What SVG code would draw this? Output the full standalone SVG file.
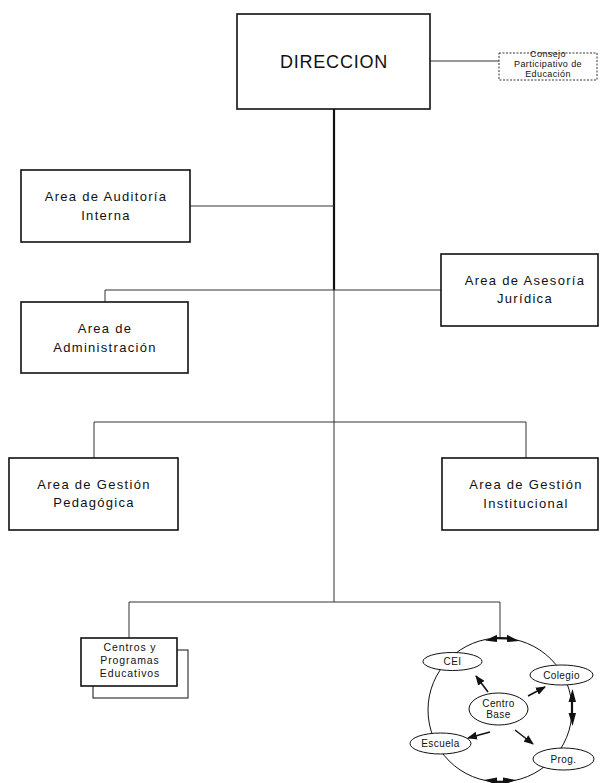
<svg xmlns="http://www.w3.org/2000/svg" width="600" height="783" viewBox="0 0 600 783">
<style>
.box{fill:#fff;stroke:#111;stroke-width:1.6}
.t{font-family:"Liberation Sans",Arial,sans-serif;font-size:13px;letter-spacing:1.3px;text-anchor:middle;fill:#111}
.s{font-family:"Liberation Sans",Arial,sans-serif;font-size:10px;letter-spacing:0.4px;text-anchor:middle;fill:#111}
.c{fill:none;stroke:#333;stroke-width:1}
.el{fill:#fff;stroke:#111;stroke-width:1}
.ar{stroke:#111;stroke-width:1.5;fill:none}
.hd{fill:#111;stroke:none}
</style>
<defs>
<marker id="ah" markerWidth="10" markerHeight="8" refX="9" refY="4" orient="auto" markerUnits="userSpaceOnUse">
<path d="M0,0 L10,4 L0,8 Z" fill="#111"/>
</marker>
</defs>
<g id="connectors">
<line class="c" x1="430" y1="61" x2="499" y2="61"/>
<line x1="334" y1="109" x2="334" y2="290" stroke="#111" stroke-width="2.2"/>
<line class="c" x1="334" y1="290" x2="334" y2="602" stroke="#111"/>
<line class="c" x1="190" y1="206" x2="334" y2="206"/>
<polyline class="c" points="105,302 105,290 441,290"/>
<polyline class="c" points="94,458 94,422 526,422 526,458"/>
<polyline class="c" points="129,638 129,602 500,602 500,638"/>
</g>
<g id="direccion">
<rect class="box" x="237" y="14" width="193" height="95" stroke-width="2"/>
<text class="t" x="334" y="68" style="font-size:18px;letter-spacing:0.8px">DIRECCION</text>
</g>
<g id="consejo">
<rect x="499" y="53" width="98" height="27" fill="#fff" stroke="#333" stroke-width="1" stroke-dasharray="2,1.5"/>
<text class="s" x="548" y="57" style="font-size:9px">Consejo</text>
<text class="s" x="548" y="67" style="font-size:9px">Participativo de</text>
<text class="s" x="548" y="77" style="font-size:9px">Educación</text>
</g>
<g id="auditoria">
<rect class="box" x="21" y="170" width="169" height="72"/>
<text class="t" x="106" y="201">Area de Auditoría</text>
<text class="t" x="106" y="220">Interna</text>
</g>
<g id="juridica">
<rect class="box" x="441" y="254" width="157" height="72"/>
<text class="t" x="525" y="285">Area de Asesoría</text>
<text class="t" x="525" y="303">Jurídica</text>
</g>
<g id="administracion">
<rect class="box" x="21" y="302" width="167" height="71"/>
<text class="t" x="105" y="333">Area de</text>
<text class="t" x="105" y="352">Administración</text>
</g>
<g id="pedagogica">
<rect class="box" x="9" y="458" width="169" height="72"/>
<text class="t" x="94" y="489">Area de Gestión</text>
<text class="t" x="94" y="507">Pedagógica</text>
</g>
<g id="institucional">
<rect class="box" x="442" y="458" width="156" height="72"/>
<text class="t" x="526" y="489">Area de Gestión</text>
<text class="t" x="526" y="508">Institucional</text>
</g>
<g id="centros">
<rect x="93" y="650" width="95" height="48" fill="#fff" stroke="#111" stroke-width="1"/>
<rect class="box" x="81" y="638" width="96" height="48"/>
<text class="s" x="130" y="651" style="font-size:10.5px;letter-spacing:0.9px">Centros y</text>
<text class="s" x="130" y="664" style="font-size:10.5px;letter-spacing:0.9px">Programas</text>
<text class="s" x="130" y="677" style="font-size:10.5px;letter-spacing:0.9px">Educativos</text>
</g>
<g id="ciclo">
<circle cx="500" cy="710" r="72" fill="none" stroke="#111" stroke-width="1"/>
<line x1="496" y1="638.2" x2="507" y2="638.3" stroke="#111" stroke-width="2.2"/>
<polygon class="hd" points="485,640.5 497,634.8 497,642"/>
<polygon class="hd" points="519,641 507,634.8 507,642"/>
<line x1="495" y1="781.8" x2="505" y2="781.8" stroke="#111" stroke-width="2.2"/>
<polygon class="hd" points="484,780 497,777.5 497,785"/>
<polygon class="hd" points="516,780 503,777.5 503,785"/>
<line x1="572" y1="701" x2="572" y2="714" stroke="#111" stroke-width="2.2"/>
<polygon class="hd" points="572.5,689 568.5,702 576,702"/>
<polygon class="hd" points="572.5,726 568.5,713 576,713"/>
</g>
<g id="flechas">
<line class="ar" x1="488" y1="692" x2="476" y2="676" marker-end="url(#ah)"/>
<line class="ar" x1="528" y1="696" x2="545" y2="687" marker-end="url(#ah)"/>
<line class="ar" x1="490" y1="732" x2="468" y2="738" marker-end="url(#ah)"/>
<line class="ar" x1="515" y1="730" x2="533" y2="744" marker-end="url(#ah)"/>
</g>
<g id="cei">
<ellipse class="el" cx="452.5" cy="661.5" rx="29.5" ry="9"/>
<text class="s" x="452.5" y="665">CEI</text>
</g>
<g id="colegio">
<ellipse class="el" cx="561.5" cy="675" rx="31.5" ry="10"/>
<text class="s" x="561.5" y="678.5">Colegio</text>
</g>
<g id="centro-base">
<ellipse class="el" cx="498.5" cy="709" rx="29.5" ry="16" stroke-width="2"/>
<text class="s" x="498.5" y="706.5">Centro</text>
<text class="s" x="498.5" y="718">Base</text>
</g>
<g id="escuela">
<ellipse class="el" cx="440.5" cy="743.5" rx="30.5" ry="10.5"/>
<text class="s" x="440.5" y="747">Escuela</text>
</g>
<g id="prog">
<ellipse class="el" cx="563.5" cy="759" rx="30.5" ry="11"/>
<text class="s" x="563.5" y="762.5">Prog.</text>
</g>
</svg>
